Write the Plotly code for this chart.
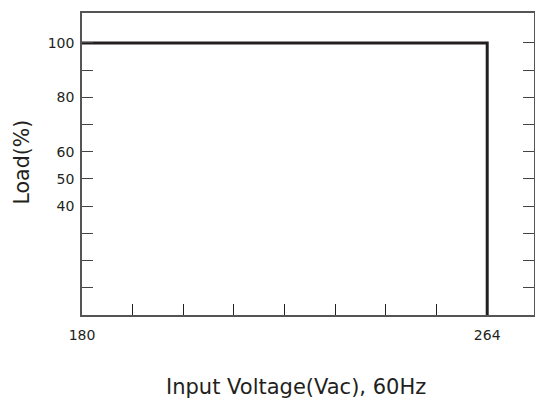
import plotly.graph_objects as go

# Data
voltage = [180, 264, 264]
load = [100, 100, 0]

x_tick_vals = [180, 190.5, 201, 211.5, 222, 232.5, 243, 253.5, 264]
x_tick_text = ["180", "", "", "", "", "", "", "", "264"]
y_tick_vals = [10, 20, 30, 40, 50, 60, 70, 80, 90, 100]
y_tick_text = ["", "", "", "40", "50", "60", "", "80", "", "100"]

FONT = "'DejaVu Sans', sans-serif"
TXT = "#231f20"

fig = go.Figure()
fig.add_trace(go.Scatter(
    x=voltage, y=load, mode="lines",
    line=dict(color=TXT, width=3),
    hoverinfo="skip", showlegend=False,
))

fig.update_layout(
    width=535, height=401, autosize=False,
    margin=dict(l=82, r=1, t=13, b=86, autoexpand=False),
    paper_bgcolor="white", plot_bgcolor="white",
    font=dict(family=FONT, color=TXT),
    showlegend=False,
)

fig.update_xaxes(
    range=[180, 273.7],
    tickvals=x_tick_vals, ticktext=x_tick_text,
    ticks="inside", ticklen=11, tickwidth=1.3, tickcolor=TXT,
    showline=True, linecolor="#555", linewidth=1.5, mirror=True,
    showgrid=False, zeroline=False, ticklabelstandoff=6,
    tickfont=dict(size=14, family=FONT, color=TXT),
)
fig.update_yaxes(
    range=[0, 111],
    tickvals=y_tick_vals, ticktext=y_tick_text,
    ticks="inside", ticklen=11, tickwidth=1.3, tickcolor="#444",
    showline=True, linecolor="#555", linewidth=1.5, mirror="ticks",
    showgrid=False, zeroline=False, ticklabelstandoff=3,
    tickfont=dict(size=14, family=FONT, color=TXT),
)

fig.add_annotation(
    text="Load(%)",
    xref="paper", yref="paper", x=0, y=0.5, xshift=-60.5, yshift=2,
    xanchor="center", yanchor="middle", textangle=-90, showarrow=False,
    font=dict(size=20.5, family=FONT, color=TXT),
)
fig.add_annotation(
    text="Input Voltage(Vac), 60Hz",
    xref="paper", yref="paper", x=0.473, y=0, yshift=-72,
    xanchor="center", yanchor="middle", showarrow=False,
    font=dict(size=21, family=FONT, color=TXT),
)

fig.write_html(
    "out.html",
    config={"displayModeBar": False},
    post_script="document.body.style.margin='0';document.body.style.overflow='hidden';",
)
